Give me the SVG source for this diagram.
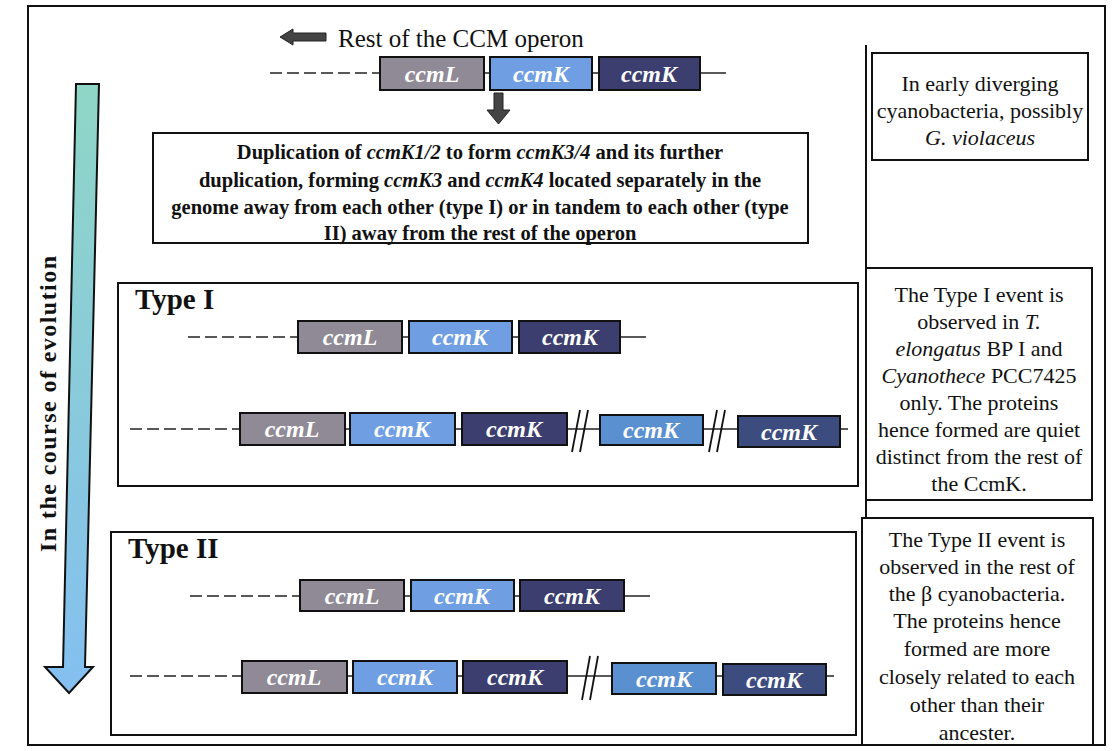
<svg xmlns="http://www.w3.org/2000/svg" width="1114" height="751" viewBox="0 0 1114 751">
<defs>
<linearGradient id="evo" x1="0" y1="0" x2="0" y2="1">
<stop offset="0" stop-color="#8fd6c6"/>
<stop offset="1" stop-color="#84bff0"/>
</linearGradient>
<style>
text{font-family:"Liberation Serif","Times New Roman",Tinos,"DejaVu Serif",serif}
.frame{fill:none;stroke:#111;stroke-width:2}
.box{fill:#fff;stroke:#111;stroke-width:2}
.gene{stroke:#111;stroke-width:2}
.L{fill:#8f8a96}
.K1{fill:#6f9fe2}
.K2{fill:#3b3e6e}
.K3{fill:#5a90d0}
.K4{fill:#3d4c7e}
.gt{font-style:italic;font-weight:bold;font-size:24px;fill:#fff;text-anchor:middle}
.line{stroke:#222;stroke-width:1.5;fill:none}
.dash{stroke:#222;stroke-width:1.5;stroke-dasharray:12 5;fill:none}
.brk{stroke:#111;stroke-width:1.8}
.desc{font-weight:bold;font-size:20.5px;fill:#111;text-anchor:middle}
.side{font-size:22px;fill:#111;text-anchor:middle}
.ttl{font-weight:bold;font-size:29px;fill:#111}
</style>
</defs>
<rect x="28" y="6" width="1077" height="739" class="frame"/>
<line x1="866" y1="45" x2="866" y2="745" stroke="#111" stroke-width="2"/>

<g id="evolution-arrow">
<path d="M76 84 H99 L85 667 H93 L69 693 L45 667 H63 Z" fill="url(#evo)" stroke="#111" stroke-width="2" stroke-linejoin="miter"/>
<text transform="translate(56 404) rotate(-90)" text-anchor="middle" font-weight="bold" font-size="24" fill="#111" textLength="296" lengthAdjust="spacing">In the course of evolution</text>
</g>

<g id="top-operon">
<path d="M280 37 L293 29 V33 H326 V41 H293 V45 Z" fill="#444" stroke="#222" stroke-width="1"/>
<text x="338" y="47" font-size="25" fill="#111">Rest of the CCM operon</text>
<line x1="270" y1="73" x2="380" y2="73" class="dash"/>
<line x1="484" y1="73" x2="490" y2="73" class="line"/>
<line x1="592" y1="73" x2="599" y2="73" class="line"/>
<line x1="700" y1="73" x2="726" y2="73" class="line"/>
<rect x="380" y="57" width="104" height="33" class="gene L"/><text x="432" y="82" class="gt">ccmL</text>
<rect x="490" y="57" width="102" height="33" class="gene K1"/><text x="541" y="82" class="gt">ccmK</text>
<rect x="599" y="57" width="101" height="33" class="gene K2"/><text x="649" y="82" class="gt">ccmK</text>
</g>

<g id="connectors">
<path d="M494 93 H503 V110 H510 L498.5 124 L487 110 H494 Z" fill="#444" stroke="#222" stroke-width="1"/>
</g>

<g id="duplication-box">
<rect x="153" y="133" width="655" height="110" class="box"/>
<text x="480" y="159" class="desc">Duplication of <tspan font-style="italic">ccmK1/2</tspan> to form <tspan font-style="italic">ccmK3/4</tspan> and its further</text>
<text x="480" y="187" class="desc">duplication, forming <tspan font-style="italic">ccmK3</tspan> and <tspan font-style="italic">ccmK4</tspan> located separately in the</text>
<text x="480" y="214" class="desc">genome away from each other (type I) or in tandem to each other (type</text>
<text x="480" y="240" class="desc">II) away from the rest of the operon</text>
</g>

<g id="type1">
<rect x="118" y="283" width="740" height="203" class="box"/>
<text x="135" y="309" class="ttl">Type I</text>
<line x1="188" y1="337" x2="298" y2="337" class="dash"/>
<line x1="402" y1="337" x2="409" y2="337" class="line"/>
<line x1="512" y1="337" x2="519" y2="337" class="line"/>
<line x1="620" y1="337" x2="646" y2="337" class="line"/>
<rect x="298" y="321" width="104" height="32" class="gene L"/><text x="350" y="345" class="gt">ccmL</text>
<rect x="409" y="321" width="103" height="32" class="gene K1"/><text x="460" y="345" class="gt">ccmK</text>
<rect x="519" y="321" width="101" height="32" class="gene K2"/><text x="570" y="345" class="gt">ccmK</text>

<line x1="130" y1="429" x2="240" y2="429" class="dash"/>
<line x1="345" y1="429" x2="350" y2="429" class="line"/>
<line x1="455" y1="429" x2="462" y2="429" class="line"/>
<line x1="567" y1="429" x2="600" y2="429" class="line"/>
<line x1="703" y1="429" x2="738" y2="429" class="line"/>
<line x1="840" y1="429" x2="848" y2="429" class="line"/>
<line x1="572" y1="452" x2="580" y2="410" class="brk"/>
<line x1="580" y1="452" x2="588" y2="410" class="brk"/>
<line x1="709" y1="452" x2="717" y2="410" class="brk"/>
<line x1="717" y1="452" x2="725" y2="410" class="brk"/>
<rect x="240" y="413" width="105" height="32" class="gene L"/><text x="292" y="437" class="gt">ccmL</text>
<rect x="350" y="413" width="105" height="32" class="gene K1"/><text x="402" y="437" class="gt">ccmK</text>
<rect x="462" y="413" width="105" height="32" class="gene K2"/><text x="514" y="437" class="gt">ccmK</text>
<rect x="600" y="415" width="103" height="30" class="gene K3"/><text x="651" y="438" class="gt">ccmK</text>
<rect x="738" y="416" width="102" height="31" class="gene K4"/><text x="789" y="440" class="gt">ccmK</text>
</g>

<g id="type2">
<rect x="111" y="532" width="745" height="203" class="box"/>
<text x="128" y="558" class="ttl">Type II</text>
<line x1="190" y1="596" x2="300" y2="596" class="dash"/>
<line x1="404" y1="596" x2="411" y2="596" class="line"/>
<line x1="514" y1="596" x2="520" y2="596" class="line"/>
<line x1="624" y1="596" x2="650" y2="596" class="line"/>
<rect x="300" y="580" width="104" height="31" class="gene L"/><text x="352" y="604" class="gt">ccmL</text>
<rect x="411" y="580" width="103" height="31" class="gene K1"/><text x="462" y="604" class="gt">ccmK</text>
<rect x="520" y="580" width="104" height="31" class="gene K2"/><text x="572" y="604" class="gt">ccmK</text>

<line x1="130" y1="676" x2="242" y2="676" class="dash"/>
<line x1="347" y1="676" x2="353" y2="676" class="line"/>
<line x1="457" y1="676" x2="463" y2="676" class="line"/>
<line x1="567" y1="676" x2="612" y2="676" class="line"/>
<line x1="716" y1="676" x2="723" y2="676" class="line"/>
<line x1="826" y1="676" x2="834" y2="676" class="line"/>
<line x1="582" y1="700" x2="590" y2="656" class="brk"/>
<line x1="590" y1="700" x2="598" y2="656" class="brk"/>
<rect x="242" y="661" width="105" height="32" class="gene L"/><text x="294" y="685" class="gt">ccmL</text>
<rect x="353" y="661" width="104" height="32" class="gene K1"/><text x="405" y="685" class="gt">ccmK</text>
<rect x="463" y="661" width="104" height="32" class="gene K2"/><text x="515" y="685" class="gt">ccmK</text>
<rect x="612" y="663" width="104" height="31" class="gene K3"/><text x="664" y="687" class="gt">ccmK</text>
<rect x="723" y="664" width="103" height="31" class="gene K4"/><text x="774" y="688" class="gt">ccmK</text>
</g>

<g id="note-early">
<rect x="872" y="53" width="216" height="107" class="box"/>
<text x="980" y="91" class="side">In early diverging</text>
<text x="980" y="118" class="side">cyanobacteria, possibly</text>
<text x="980" y="145" class="side" font-style="italic">G. violaceus</text>
</g>

<g id="note-type1">
<rect x="866" y="268" width="226" height="232" class="box"/>
<text x="979" y="302" class="side">The Type I event is</text>
<text x="979" y="329" class="side">observed in <tspan font-style="italic">T.</tspan></text>
<text x="979" y="356" class="side"><tspan font-style="italic">elongatus</tspan> BP I and</text>
<text x="979" y="383" class="side"><tspan font-style="italic">Cyanothece</tspan> PCC7425</text>
<text x="979" y="410" class="side">only.  The proteins</text>
<text x="979" y="437" class="side">hence formed are quiet</text>
<text x="979" y="464" class="side">distinct from the rest of</text>
<text x="979" y="491" class="side">the CcmK.</text>
</g>

<g id="note-type2">
<rect x="862" y="518" width="231" height="227" class="box"/>
<text x="977" y="547" class="side">The Type II event is</text>
<text x="977" y="574" class="side">observed in the rest of</text>
<text x="977" y="601" class="side">the β cyanobacteria.</text>
<text x="977" y="628" class="side">The proteins hence</text>
<text x="977" y="656" class="side">formed are more</text>
<text x="977" y="684" class="side">closely related to each</text>
<text x="977" y="712" class="side">other than their</text>
<text x="977" y="740" class="side">ancester.</text>
</g>
</svg>
